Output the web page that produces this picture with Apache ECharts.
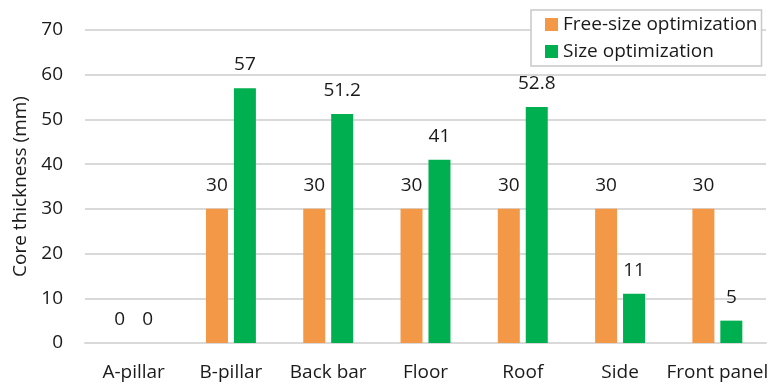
<!DOCTYPE html>
<html>
<head>
<meta charset="utf-8">
<style>
  html, body { margin: 0; padding: 0; background: #ffffff; }
  #chart { width: 772px; height: 385px; }
</style>
<script src="https://cdn.jsdelivr.net/npm/echarts@6/dist/echarts.min.js"></script>
</head>
<body>
<div id="chart"></div>
<script>
// Core thickness of each body part under the two optimization approaches
const categories = ['A-pillar', 'B-pillar', 'Back bar', 'Floor', 'Roof', 'Side', 'Front panel'];
const freeSizeValues = [0, 30, 30, 30, 30, 30, 30];
const sizeValues = [0, 57, 51.2, 41, 52.8, 11, 5];
const seriesNames = ['Free-size optimization', 'Size optimization'];
const yTicks = { min: 0, max: 70, interval: 10 };

const FONT = '"Open Sans", "DejaVu Sans", sans-serif';
const TEXT = '#1a1a1a';
const FS = 19;

const chart = echarts.init(document.getElementById('chart'), null, { renderer: 'canvas' });

const labelStyle = {
  show: true,
  position: 'top',
  distance: 14,
  color: TEXT,
  fontFamily: FONT,
  fontSize: FS
};

chart.setOption({
  animation: false,
  backgroundColor: '#ffffff',
  textStyle: { fontFamily: FONT },
  grid: { left: 85, right: 6, top: 30, bottom: 42, containLabel: false },
  legend: {
    orient: 'vertical',
    left: 531,
    top: 10,
    padding: [5, 4, 5, 14],
    itemGap: 8,
    itemWidth: 13,
    itemHeight: 13,
    icon: 'rect',
    backgroundColor: '#ffffff',
    borderColor: '#c8c8c8',
    borderWidth: 1.5,
    textStyle: { color: TEXT, fontFamily: FONT, fontSize: FS, padding: [0, 0, 0, 0] },
    data: seriesNames
  },
  xAxis: {
    type: 'category',
    data: categories,
    axisLine: { show: true, lineStyle: { color: '#d9d9d9', width: 2 } },
    axisTick: { show: false },
    axisLabel: { color: TEXT, fontFamily: FONT, fontSize: FS, margin: 20, interval: 0 }
  },
  yAxis: {
    type: 'value',
    min: yTicks.min,
    max: yTicks.max,
    interval: yTicks.interval,
    name: 'Core thickness (mm)',
    nameLocation: 'middle',
    nameGap: 54,
    nameRotate: 90,
    nameTextStyle: { color: TEXT, fontFamily: FONT, fontSize: FS },
    axisLine: { show: false },
    axisTick: { show: false },
    axisLabel: { color: TEXT, fontFamily: FONT, fontSize: FS, margin: 22 },
    splitLine: { show: true, lineStyle: { color: '#d9d9d9', width: 2 } }
  },
  series: [
    {
      name: seriesNames[0],
      type: 'bar',
      data: freeSizeValues,
      barWidth: 22,
      barGap: '27%',
      itemStyle: { color: '#F39847' },
      label: labelStyle
    },
    {
      name: seriesNames[1],
      type: 'bar',
      data: sizeValues,
      barWidth: 22,
      itemStyle: { color: '#00B050' },
      label: labelStyle
    }
  ]
});
</script>
</body>
</html>
